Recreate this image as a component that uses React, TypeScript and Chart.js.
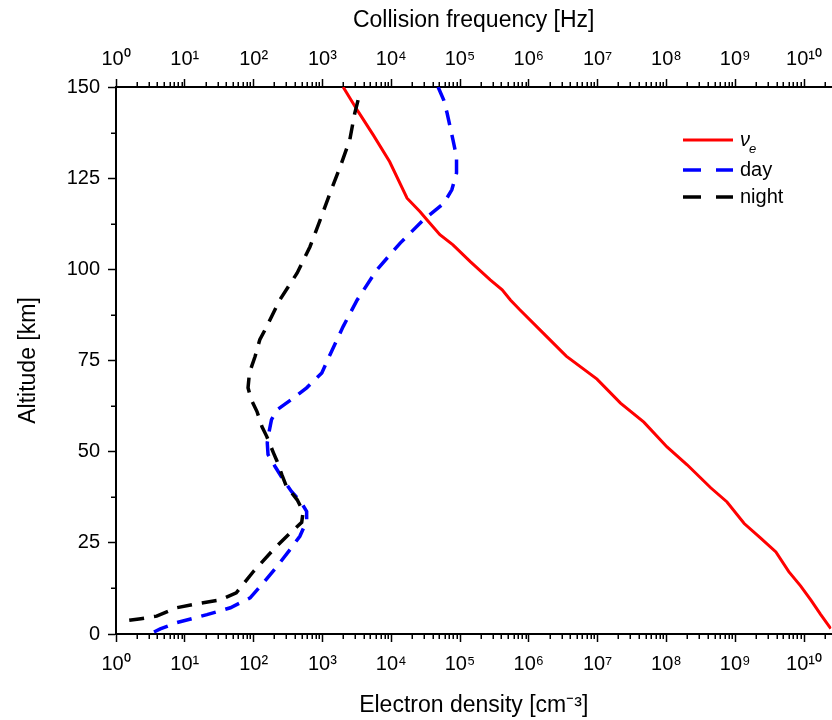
import React, { useEffect, useRef } from 'react';
import { Chart, registerables } from 'chart.js';

Chart.register(...registerables);

const FONT = '"Liberation Sans", Arial, Helvetica, sans-serif';

// Collision frequency ν_e [Hz] (top axis) vs altitude [km]
const nuAltitude = [150, 143.3, 136.8, 129.5, 119.5, 115.8, 113.6, 109.5, 106.7, 102.1, 97.1, 94.4, 91.6, 88.9, 82.5, 76.2, 69.9, 63.3, 58.1, 51.3, 46.4, 40.1, 36.2, 30.3, 26.4, 22.5, 17.1, 13.2, 9.3, 5.4, 1.5];
const nuValues = [2.0e3, 3.3e3, 5.5e3, 9.5e3, 1.7e4, 2.63e4, 3.3e4, 5.1e4, 7.9e4, 1.41e5, 2.75e5, 4.1e5, 5.4e5, 7.4e5, 1.62e6, 3.5e6, 9.8e6, 2.15e7, 4.7e7, 1.02e8, 2.0e8, 4.4e8, 7.6e8, 1.35e9, 2.3e9, 3.9e9, 6.0e9, 8.9e9, 1.26e10, 1.74e10, 2.45e10];

// Electron density [cm^-3], day profile
const dayAltitude = [150, 146.4, 142.8, 135.5, 130.9, 126.4, 121.8, 118.1, 113.6, 107.2, 99.9, 91.6, 84.3, 76.6, 71.6, 67.5, 64.7, 61.5, 58.8, 56.0, 52.4, 49.2, 46.0, 42.3, 39.1, 35.9, 33.6, 30.9, 26.8, 23.2, 18.6, 14.0, 9.9, 7.2, 5.3, 3.1, 1.4, 0];
const dayDensity = [4.8e4, 5.8e4, 6.5e4, 7.9e4, 8.9e4, 8.9e4, 7.6e4, 5.8e4, 2.95e4, 1.35e4, 6.2e3, 3.2e3, 2.0e3, 1.29e3, 980, 590, 380, 220, 182, 170, 158, 162, 204, 270, 355, 500, 590, 590, 470, 340, 220, 138, 89, 46, 21, 7.6, 4.4, 3.1];

// Electron density [cm^-3], night profile
const nightAltitude = [146.4, 142.8, 135.5, 128.2, 120.9, 113.6, 106.2, 99.0, 91.6, 84.3, 80.7, 76.1, 71.6, 67.5, 64.2, 61.0, 56.9, 54.2, 49.6, 47.3, 43.7, 40.5, 36.8, 33.6, 30.6, 27.7, 23.2, 17.2, 11.3, 9.3, 8.4, 7.2, 4.9, 4.2, 3.4];
const nightDensity = [3.3e3, 2.95e3, 2.5e3, 1.82e3, 1.29e3, 930, 660, 430, 240, 155, 123, 105, 87, 83, 93, 112, 132, 155, 195, 220, 257, 300, 430, 525, 500, 340, 195, 100, 56, 32, 16, 7.6, 3.9, 2.3, 1.15];

// Axis ticks
const xTickValues = [1, 1e1, 1e2, 1e3, 1e4, 1e5, 1e6, 1e7, 1e8, 1e9, 1e10];
const xMinorMultipliers = [2, 3, 4, 5, 6, 7, 8, 9];
const yTickValues = [0, 25, 50, 75, 100, 125, 150];
const yMinorValues = [12.5, 37.5, 62.5, 87.5, 112.5, 137.5];
const X_MIN = 1;
const X_MAX = 2.5e10;

const legendItems = [
  { label: 'ν', sub: 'e', color: '#ff0000', dashed: false },
  { label: 'day', sub: '', color: '#0000ff', dashed: true },
  { label: 'night', sub: '', color: '#000000', dashed: true },
];

const SUP = ['⁰', '¹', '²', '³', '⁴', '⁵', '⁶', '⁷', '⁸', '⁹'];
function decadeLabel(v: number): string {
  const e = Math.round(Math.log10(v));
  return '10' + String(e).split('').map((d) => SUP[+d]).join('');
}

const toPoints = (xs: number[], ys: number[]) => xs.map((x, i) => ({ x, y: ys[i] }));

const minorTicksAndLegend = {
  id: 'minorTicksAndLegend',
  afterDraw(chart: any) {
    const ctx = chart.ctx as CanvasRenderingContext2D;
    const sx = chart.scales.x;
    const sx2 = chart.scales.x2;
    const sy = chart.scales.y;
    ctx.save();
    ctx.strokeStyle = '#000';
    ctx.lineWidth = 1.5;
    for (const base of xTickValues) {
      for (const m of xMinorMultipliers) {
        const v = base * m;
        if (v > X_MAX) continue;
        const p1 = Math.round(sx.getPixelForValue(v)) + 0.25;
        ctx.beginPath();
        ctx.moveTo(p1, sx.top);
        ctx.lineTo(p1, sx.top + 5);
        ctx.stroke();
        const p2 = Math.round(sx2.getPixelForValue(v)) + 0.25;
        ctx.beginPath();
        ctx.moveTo(p2, sx2.bottom);
        ctx.lineTo(p2, sx2.bottom - 5);
        ctx.stroke();
      }
    }
    for (const v of yMinorValues) {
      const py = Math.round(sy.getPixelForValue(v)) + 0.25;
      ctx.beginPath();
      ctx.moveTo(sy.right, py);
      ctx.lineTo(sy.right - 5, py);
      ctx.stroke();
    }

    // legend
    const lx0 = 683;
    const lx1 = 733;
    const rowY = [140, 170, 197];
    legendItems.forEach((it, i) => {
      const yy = rowY[i];
      ctx.strokeStyle = it.color;
      ctx.lineWidth = it.dashed ? 3.5 : 3;
      ctx.lineCap = 'butt';
      ctx.beginPath();
      if (it.dashed) {
        ctx.moveTo(lx0, yy);
        ctx.lineTo(lx0 + 18, yy);
        ctx.moveTo(lx1 - 17, yy);
        ctx.lineTo(lx1, yy);
      } else {
        ctx.moveTo(lx0, yy);
        ctx.lineTo(lx1, yy);
      }
      ctx.stroke();
      ctx.fillStyle = '#000';
      ctx.textBaseline = 'middle';
      ctx.textAlign = 'left';
      if (it.sub) {
        ctx.font = `italic 20px ${FONT}`;
        ctx.fillText(it.label, 740, yy);
        const w = ctx.measureText(it.label).width;
        ctx.font = `italic 13px ${FONT}`;
        ctx.fillText(it.sub, 740 + w - 1, yy + 9);
      } else {
        ctx.font = `20px ${FONT}`;
        ctx.fillText(it.label, 740, yy);
      }
    });
    ctx.restore();
  },
};

export default function App() {
  const ref = useRef<HTMLCanvasElement>(null);
  useEffect(() => {
    document.body.style.margin = '0';
    const canvas = ref.current as HTMLCanvasElement;
    const tickFont = { family: FONT, size: 20 };
    const titleFont = { family: FONT, size: 23 };
    const grid = {
      display: true,
      drawOnChartArea: false,
      drawTicks: true,
      tickLength: 8,
      tickWidth: 1.5,
      tickColor: '#000',
    };
    const border = { display: true, color: '#000', width: 2 };
    const chart = new Chart(canvas, {
      type: 'scatter',
      data: {
        datasets: [
          {
            label: 'night',
            data: toPoints(nightDensity, nightAltitude),
            xAxisID: 'x',
            yAxisID: 'y',
            borderColor: '#000000',
            backgroundColor: '#000000',
            borderWidth: 3.5,
            borderDash: [15, 10],
            showLine: true,
            pointRadius: 0,
            fill: false,
          },
          {
            label: 'νe',
            data: toPoints(nuValues, nuAltitude),
            xAxisID: 'x2',
            yAxisID: 'y',
            borderColor: '#ff0000',
            backgroundColor: '#ff0000',
            borderWidth: 3,
            showLine: true,
            pointRadius: 0,
            fill: false,
          },
          {
            label: 'day',
            data: toPoints(dayDensity, dayAltitude),
            xAxisID: 'x',
            yAxisID: 'y',
            borderColor: '#0000ff',
            backgroundColor: '#0000ff',
            borderWidth: 3.5,
            borderDash: [15, 10],
            showLine: true,
            pointRadius: 0,
            fill: false,
          },
        ],
      },
      options: {
        responsive: false,
        animation: false,
        layout: { padding: 0 },
        plugins: { legend: { display: false }, tooltip: { enabled: false } },
        scales: {
          x: {
            type: 'logarithmic',
            position: 'bottom',
            min: X_MIN,
            max: X_MAX,
            afterBuildTicks: (s: any) => {
              s.ticks = xTickValues.map((v) => ({ value: v, major: false }));
            },
            afterFit: (s: any) => {
              s.height = 86;
            },
            ticks: {
              callback: (v: any) => decadeLabel(Number(v)),
              font: tickFont,
              color: '#000',
              padding: 10,
              maxRotation: 0,
              autoSkip: false,
            },
            grid,
            border,
            title: {
              display: true,
              text: 'Electron density [cm⁻³]',
              font: titleFont,
              color: '#000',
              padding: { top: 0, bottom: 1 },
            },
          },
          x2: {
            type: 'logarithmic',
            position: 'top',
            min: X_MIN,
            max: X_MAX,
            afterBuildTicks: (s: any) => {
              s.ticks = xTickValues.map((v) => ({ value: v, major: false }));
            },
            afterFit: (s: any) => {
              s.height = 87;
            },
            ticks: {
              callback: (v: any) => decadeLabel(Number(v)),
              font: tickFont,
              color: '#000',
              padding: 8,
              maxRotation: 0,
              autoSkip: false,
            },
            grid,
            border,
            title: {
              display: true,
              text: 'Collision frequency [Hz]',
              font: titleFont,
              color: '#000',
              padding: { top: 7, bottom: 0 },
            },
          },
          y: {
            type: 'linear',
            position: 'left',
            min: 0,
            max: 150,
            afterBuildTicks: (s: any) => {
              s.ticks = yTickValues.map((v) => ({ value: v }));
            },
            afterFit: (s: any) => {
              s.width = 116;
            },
            ticks: {
              font: tickFont,
              color: '#000',
              padding: 8,
            },
            grid,
            border,
            title: {
              display: true,
              text: 'Altitude [km]',
              font: titleFont,
              color: '#000',
              padding: { top: 15, bottom: 0 },
            },
          },
        },
      },
      plugins: [minorTicksAndLegend],
    } as any);
    return () => chart.destroy();
  }, []);
  return (
    <div style={{ width: 832, height: 720, position: 'relative' }}>
      <canvas ref={ref} width={832} height={720} style={{ display: 'block', width: 832, height: 720 }} />
    </div>
  );
}
